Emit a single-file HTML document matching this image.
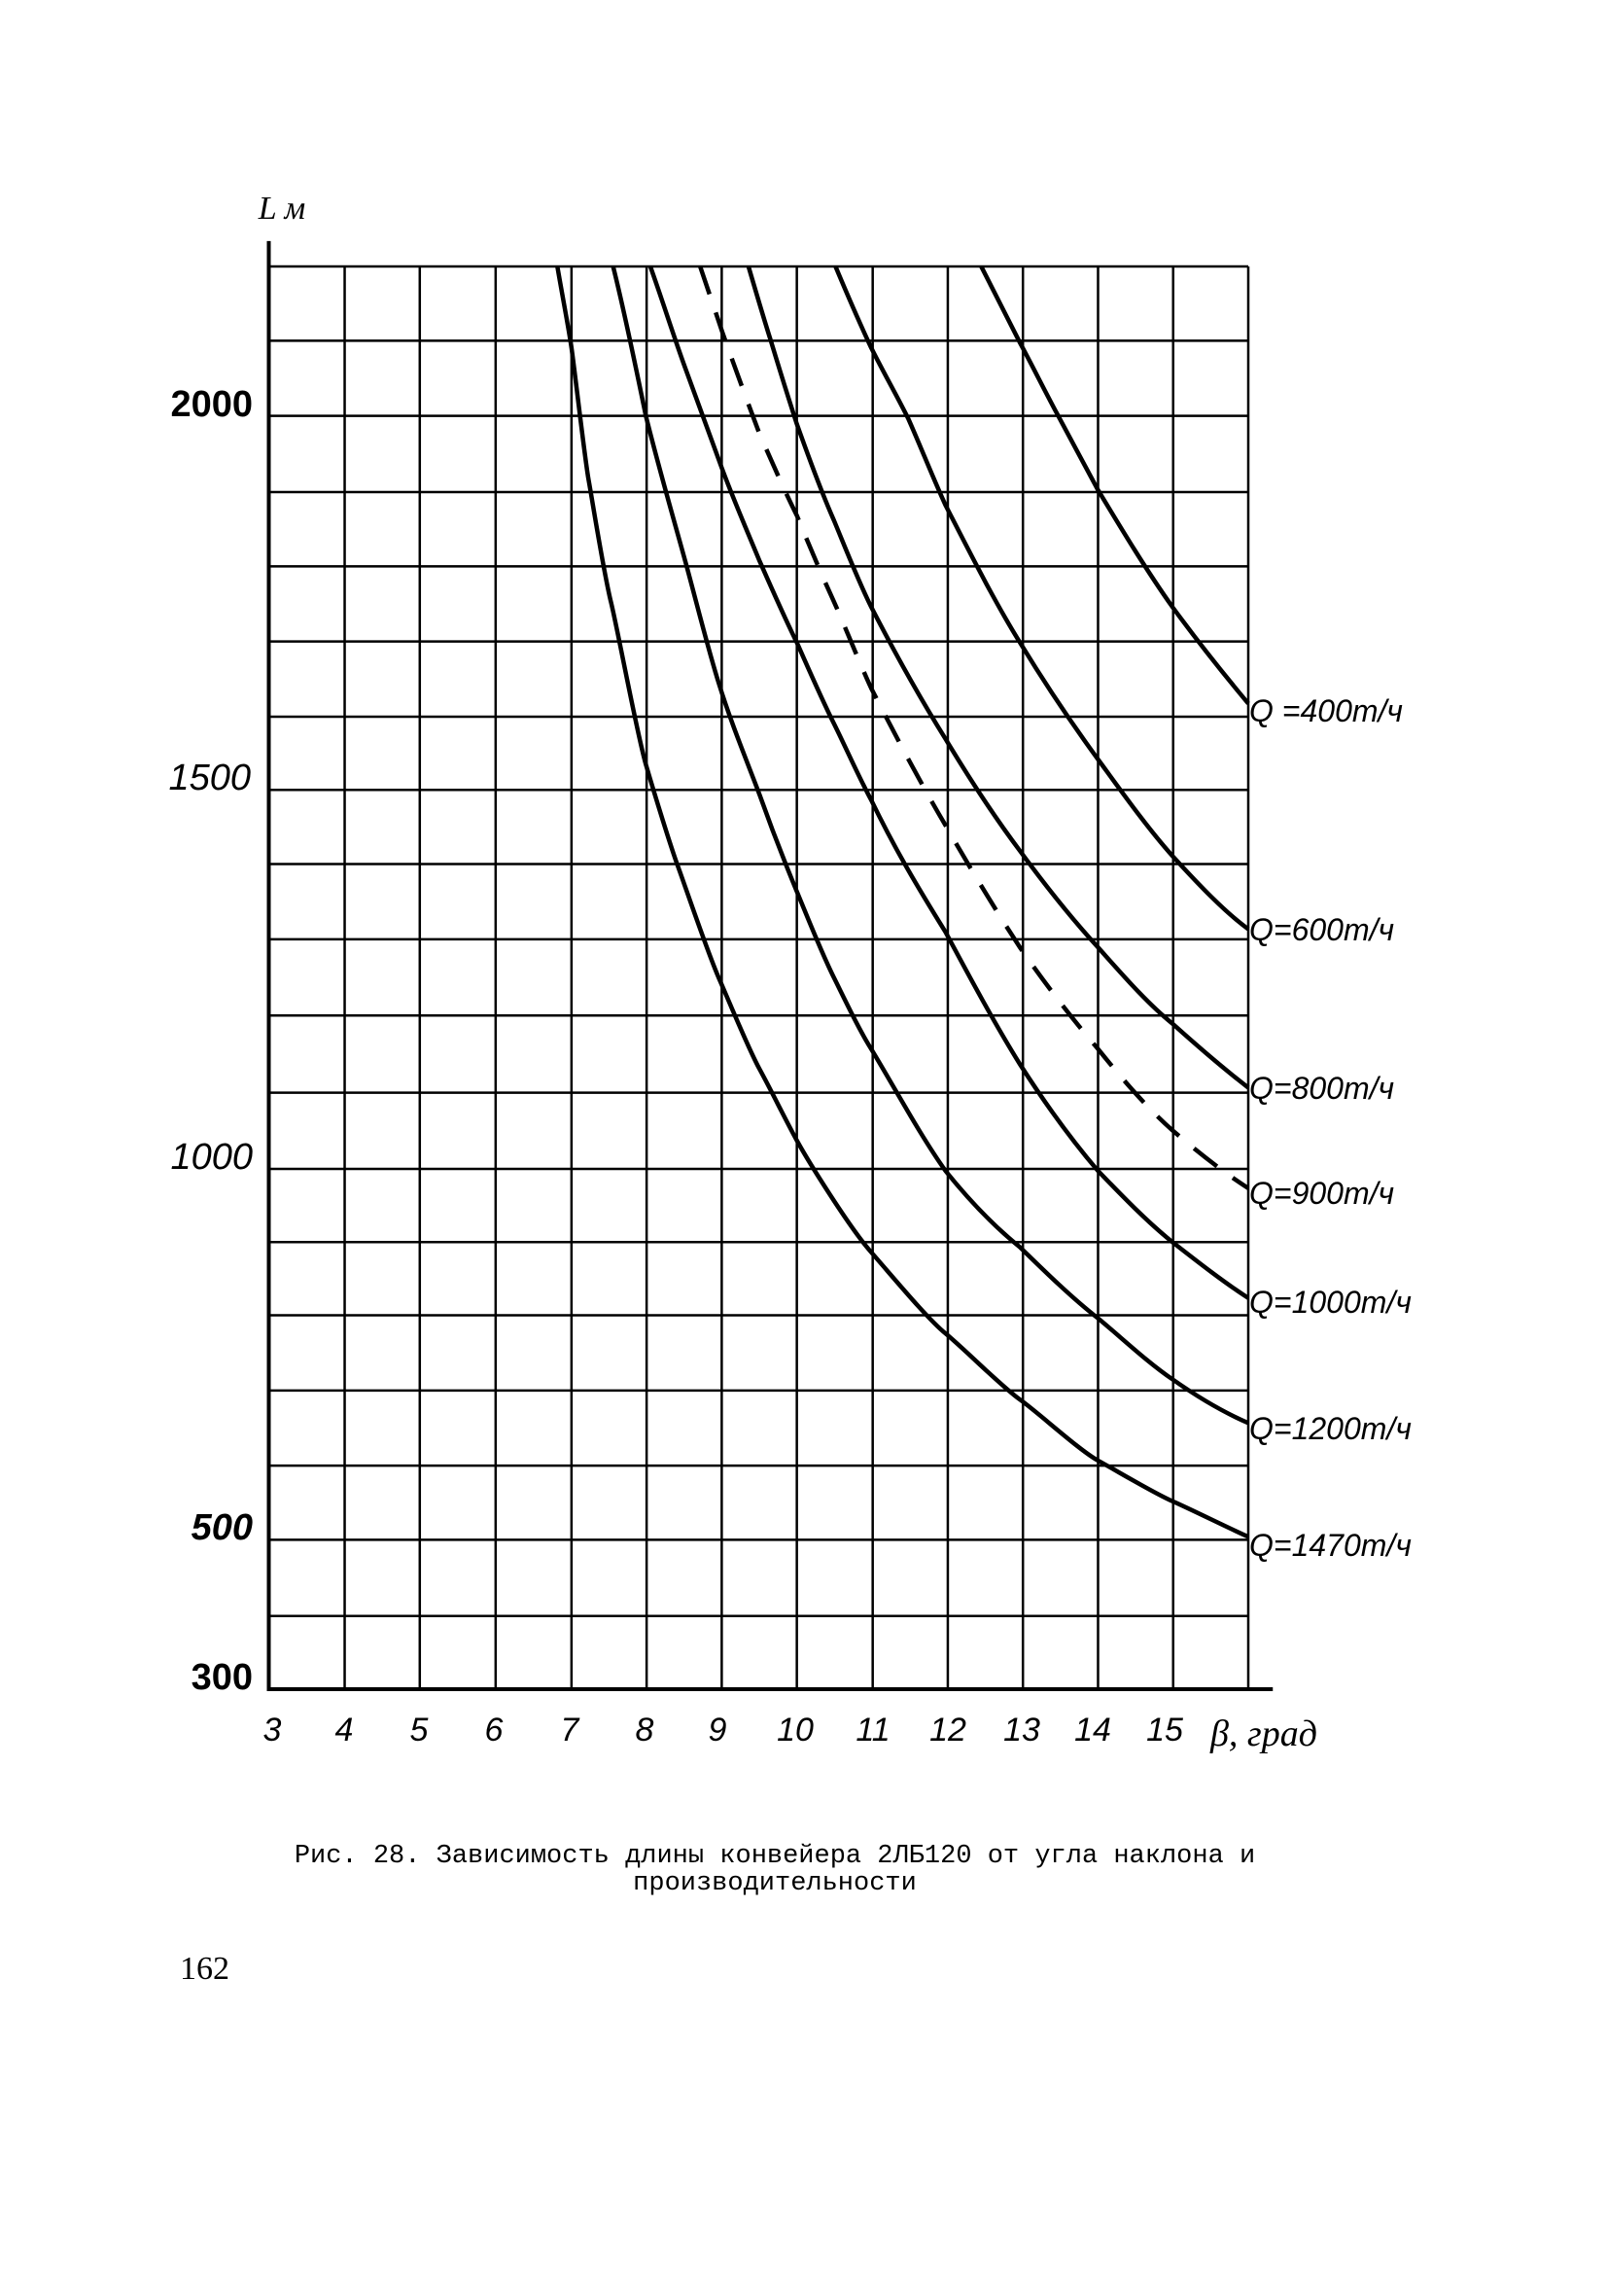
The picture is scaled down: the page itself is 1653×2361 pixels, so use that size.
<!DOCTYPE html>
<html><head><meta charset="utf-8"><style>
html,body{margin:0;padding:0;background:#fff}
svg{display:block}
</style></head><body>
<svg width="1653" height="2361" viewBox="0 0 1653 2361" xmlns="http://www.w3.org/2000/svg">
<rect width="1653" height="2361" fill="#fff"/>
<g transform="translate(200,180) scale(0.765,1.045)" fill="none" stroke="#000">
<g stroke-width="2.5" vector-effect="non-scaling-stroke">
<path vector-effect="non-scaling-stroke" d="M100,90H1417M100,163H1417M100,237H1417M100,312H1417M100,385H1417M100,459H1417M100,533H1417M100,605H1417M100,678H1417M100,752H1417M100,827H1417M100,903H1417M100,978H1417M100,1050H1417M100,1122H1417M100,1196H1417M100,1270H1417M100,1343H1417M100,1418H1417"/>
<path vector-effect="non-scaling-stroke" d="M202,90V1490M303,90V1490M405,90V1490M507,90V1490M608,90V1490M709,90V1490M810,90V1490M912,90V1490M1013,90V1490M1114,90V1490M1215,90V1490M1316,90V1490M1417,90V1490"/>
</g>
<path vector-effect="non-scaling-stroke" stroke-width="4" d="M100,65V1490H1450"/>
<g stroke-width="4.5">
<path vector-effect="non-scaling-stroke" d="M488,90 C495,120 503,150 507,170 S525,280 530,300 S550,390 560,420 S595,550 607,580 S640,660 650,680 S690,765 705,790 S745,860 760,880 S795,930 810,950 S880,1035 910,1060 S985,1125 1010,1140 S1085,1192 1110,1205 S1190,1255 1215,1265 S1290,1297 1315,1305 S1395,1333 1417,1340"/>
<path vector-effect="non-scaling-stroke" d="M563,90 C580,140 595,195 607,237 C625,290 645,340 660,380 C675,420 690,465 705,500 C722,540 742,575 760,610 C777,645 793,675 810,705 C827,735 843,765 860,790 C877,815 893,840 910,860 C943,900 976,945 1010,980 C1043,1010 1076,1035 1110,1055 C1145,1080 1180,1105 1215,1125 C1248,1145 1281,1168 1315,1185 C1350,1203 1385,1218 1417,1228"/>
<path vector-effect="non-scaling-stroke" d="M613,90 C630,125 645,160 660,190 C675,220 690,250 705,280 C722,315 742,348 760,380 C777,408 793,435 810,460 C827,488 843,515 860,540 C877,565 893,592 910,615 C943,665 976,705 1010,745 C1043,790 1076,835 1110,875 C1145,915 1180,950 1215,980 C1248,1005 1281,1030 1315,1050 C1350,1070 1385,1090 1417,1105"/>
<path vector-effect="non-scaling-stroke" d="M745,90 C755,115 765,140 775,163 C787,192 798,218 810,245 C827,280 843,312 860,340 C877,370 893,400 910,425 C943,472 976,515 1010,555 C1043,595 1076,632 1110,665 C1145,700 1180,732 1215,760 C1248,787 1281,815 1315,835 C1350,858 1385,880 1417,898"/>
<path vector-effect="non-scaling-stroke" d="M862,90 C878,118 894,145 910,170 C927,195 943,215 960,240 C977,268 993,298 1010,325 C1043,372 1076,420 1110,460 C1145,502 1180,540 1215,575 C1248,608 1281,642 1315,670 C1350,698 1385,725 1417,742"/>
<path vector-effect="non-scaling-stroke" d="M1058,90 C1075,115 1093,140 1110,165 C1127,188 1143,212 1160,235 C1178,260 1197,285 1215,310 C1248,350 1281,390 1315,425 C1350,460 1385,492 1417,520"/>
<path vector-effect="non-scaling-stroke" stroke-dasharray="30,20" d="M680,90 C690,112 700,133 710,155 C727,190 743,222 760,255 C777,283 793,310 810,335 C827,365 843,393 860,420 C877,448 893,478 910,505 C943,552 976,598 1010,640 C1043,682 1076,722 1110,760 C1145,797 1180,830 1215,860 C1248,890 1281,918 1315,940 C1350,962 1385,982 1417,997"/>
</g>
</g>
<g font-family="Liberation Sans, sans-serif" font-weight="bold" font-size="38" text-anchor="end" fill="#000">
<text x="260" y="428">2000</text>
<text x="258" y="812" font-style="italic" font-weight="normal">1500</text>
<text x="260" y="1202" font-style="italic" font-weight="normal">1000</text>
<text x="260" y="1583" font-style="italic">500</text>
<text x="260" y="1737">300</text>
</g>
<g font-family="Liberation Sans, sans-serif" font-style="italic" font-size="34" text-anchor="middle" fill="#000">
<text x="280" y="1790">3</text><text x="354" y="1790">4</text><text x="431" y="1790">5</text>
<text x="508" y="1790">6</text><text x="586" y="1790">7</text><text x="663" y="1790">8</text>
<text x="738" y="1790">9</text><text x="818" y="1790">10</text><text x="898" y="1790">11</text>
<text x="975" y="1790">12</text><text x="1051" y="1790">13</text><text x="1124" y="1790">14</text>
<text x="1198" y="1790">15</text>
<text x="1300" y="1795" font-family="Liberation Serif, serif" font-size="38">β, град</text>
<text x="290" y="225" font-family="Liberation Serif, serif" font-size="34">L м</text>
</g>
<g font-family="Liberation Sans, 'DejaVu Sans', sans-serif" font-style="italic" font-size="32" fill="#000">
<text x="1285" y="742">Q =400т/ч</text>
<text x="1285" y="967">Q=600т/ч</text>
<text x="1285" y="1130">Q=800т/ч</text>
<text x="1285" y="1238">Q=900т/ч</text>
<text x="1285" y="1350">Q=1000т/ч</text>
<text x="1285" y="1480">Q=1200т/ч</text>
<text x="1285" y="1600">Q=1470т/ч</text>
</g>
<g font-family="Liberation Mono, 'DejaVu Sans Mono', monospace" font-size="27" text-anchor="middle" fill="#000">
<text x="797" y="1915">Рис. 28. Зависимость длины конвейера 2ЛБ120 от угла наклона и</text>
<text x="797" y="1943">производительности</text>
</g>
<text x="185" y="2035" font-family="Liberation Serif, serif" font-size="34" fill="#000">162</text>
</svg>
</body></html>
